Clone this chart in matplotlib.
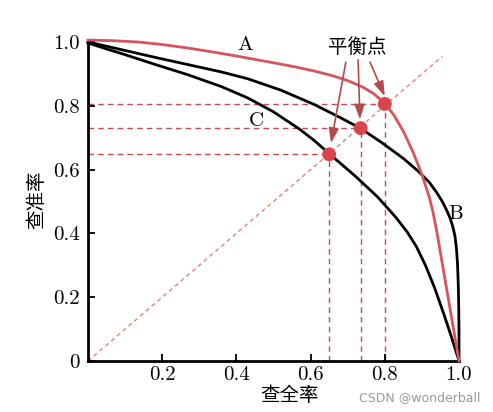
import matplotlib
matplotlib.use("Agg")
import matplotlib.pyplot as plt

# ==============================
# Data
# ==============================
# curve A (red)
a_recall = [0.0, 0.07, 0.135, 0.2, 0.27, 0.34, 0.41, 0.48, 0.55, 0.61, 0.66,
            0.70, 0.74, 0.77, 0.80, 0.825, 0.85, 0.875, 0.90, 0.92, 0.93,
            0.94, 0.96, 0.98, 1.0]
a_precision = [1.006, 1.004, 1.000, 0.992, 0.981, 0.968, 0.954, 0.939, 0.924,
               0.909, 0.894, 0.879, 0.859, 0.838, 0.808, 0.770, 0.720, 0.658,
               0.585, 0.513, 0.466, 0.407, 0.271, 0.136, 0.0]

# curve B (outer black)
b_recall = [0.0, 0.09, 0.18, 0.27, 0.36, 0.43, 0.52, 0.61, 0.68, 0.735, 0.79,
            0.85, 0.89, 0.92, 0.94, 0.955, 0.967, 0.977, 0.984, 0.989, 0.993,
            0.996, 0.998, 0.9993, 1.0, 1.0]
b_precision = [1.0, 0.976, 0.952, 0.929, 0.906, 0.885, 0.849, 0.804, 0.763,
               0.729, 0.686, 0.635, 0.595, 0.560, 0.528, 0.500, 0.472, 0.445,
               0.418, 0.392, 0.355, 0.305, 0.240, 0.170, 0.09, 0.0]

# curve C (inner black)
c_recall = [0.0, 0.045, 0.09, 0.135, 0.18, 0.27, 0.36, 0.43, 0.50, 0.57, 0.61,
            0.65, 0.72, 0.78, 0.83, 0.86, 0.885, 0.91, 0.935, 0.96, 0.98, 1.0]
c_precision = [0.997, 0.980, 0.964, 0.947, 0.930, 0.897, 0.860, 0.825, 0.781,
               0.727, 0.691, 0.650, 0.580, 0.515, 0.450, 0.405, 0.359, 0.299,
               0.227, 0.144, 0.074, 0.0]

# break-even points (C, B, A)
bep_x = [0.65, 0.735, 0.80]
bep_y = [0.648, 0.730, 0.806]

xtick_vals = [0.2, 0.4, 0.6, 0.8, 1.0]
xtick_text = ["0.2", "0.4", "0.6", "0.8", "1.0"]
ytick_vals = [0.0, 0.2, 0.4, 0.6, 0.8, 1.0]
ytick_text = ["0", "0.2", "0.4", "0.6", "0.8", "1.0"]

# ==============================
# Figure
# ==============================
RED = "#d6545a"
DASH = "#c94a4a"
CJK = ["Noto Sans CJK SC", "DejaVu Sans"]
NUM = ["cmr10", "DejaVu Serif"]

fig = plt.figure(figsize=(4.93, 4.12), dpi=100)
ax = fig.add_axes([88 / 493, 51 / 412, 371 / 493, 319 / 412])
ax.set_xlim(0, 1)
ax.set_ylim(0, 1)

# diagonal
ax.plot([0, 0.955], [0, 0.955], color="#e0837a", lw=1.0,
        linestyle=(0, (3, 2.5)), clip_on=False, zorder=1)

# guide lines
for x, y in zip(bep_x, bep_y):
    ax.plot([0, x], [y, y], color=DASH, lw=1.0, linestyle=(0, (4, 3)), zorder=1)
    ax.plot([x, x], [0, y], color=DASH, lw=1.0, linestyle=(0, (4, 3)), zorder=1)

ax.plot(b_recall, b_precision, color="black", lw=2.0, clip_on=False, zorder=3,
        solid_joinstyle="round")
ax.plot(c_recall, c_precision, color="black", lw=2.0, clip_on=False, zorder=3,
        solid_joinstyle="round")
ax.plot(a_recall, a_precision, color=RED, lw=2.0, clip_on=False, zorder=4,
        solid_joinstyle="round")

ax.scatter(bep_x, bep_y, s=100, color="#d9454c", zorder=5, edgecolors="none")

# arrows from the label to each point
starts = [(0.695, 0.937), (0.728, 0.944), (0.760, 0.937)]
tips = [(0.655, 0.683), (0.733, 0.757), (0.800, 0.830)]
for (sx, sy), (tx, ty) in zip(starts, tips):
    ax.annotate("", xy=(tx, ty), xytext=(sx, sy),
                arrowprops=dict(arrowstyle="-|>,head_length=0.9,head_width=0.3",
                                color="#b24a4e", lw=1.2, shrinkA=0, shrinkB=0),
                zorder=6)

ax.text(0.725, 0.984, "平衡点", family=CJK, fontsize=14, ha="center", va="center")
ax.text(0.423, 0.99, "A", family=NUM, fontsize=15, ha="center", va="center")
ax.text(0.453, 0.752, "C", family=NUM, fontsize=15, ha="center", va="center")
ax.text(0.992, 0.461, "B", family=NUM, fontsize=15, ha="center", va="center")

# axes styling
for side in ["top", "right"]:
    ax.spines[side].set_visible(False)
for side in ["left", "bottom"]:
    ax.spines[side].set_linewidth(2.0)

ax.set_xticks(xtick_vals)
ax.set_xticklabels(xtick_text, family=NUM, fontsize=15)
ax.set_yticks(ytick_vals)
ax.set_yticklabels(ytick_text, family=NUM, fontsize=15)
ax.tick_params(direction="in", length=5, width=1.3)
ax.tick_params(axis="x", pad=4)
ax.tick_params(axis="y", pad=6)

fig.text(0.075, 0.515, "查准率", family=CJK, fontsize=14, rotation=90,
         ha="center", va="center")
fig.text(0.588, 0.041, "查全率", family=CJK, fontsize=14, ha="center", va="center")
fig.text(0.975, 0.035, "CSDN @wonderball", family="DejaVu Sans", fontsize=9,
         color="#9a9a9a", ha="right", va="center")

fig.savefig("out.png", dpi=100)
